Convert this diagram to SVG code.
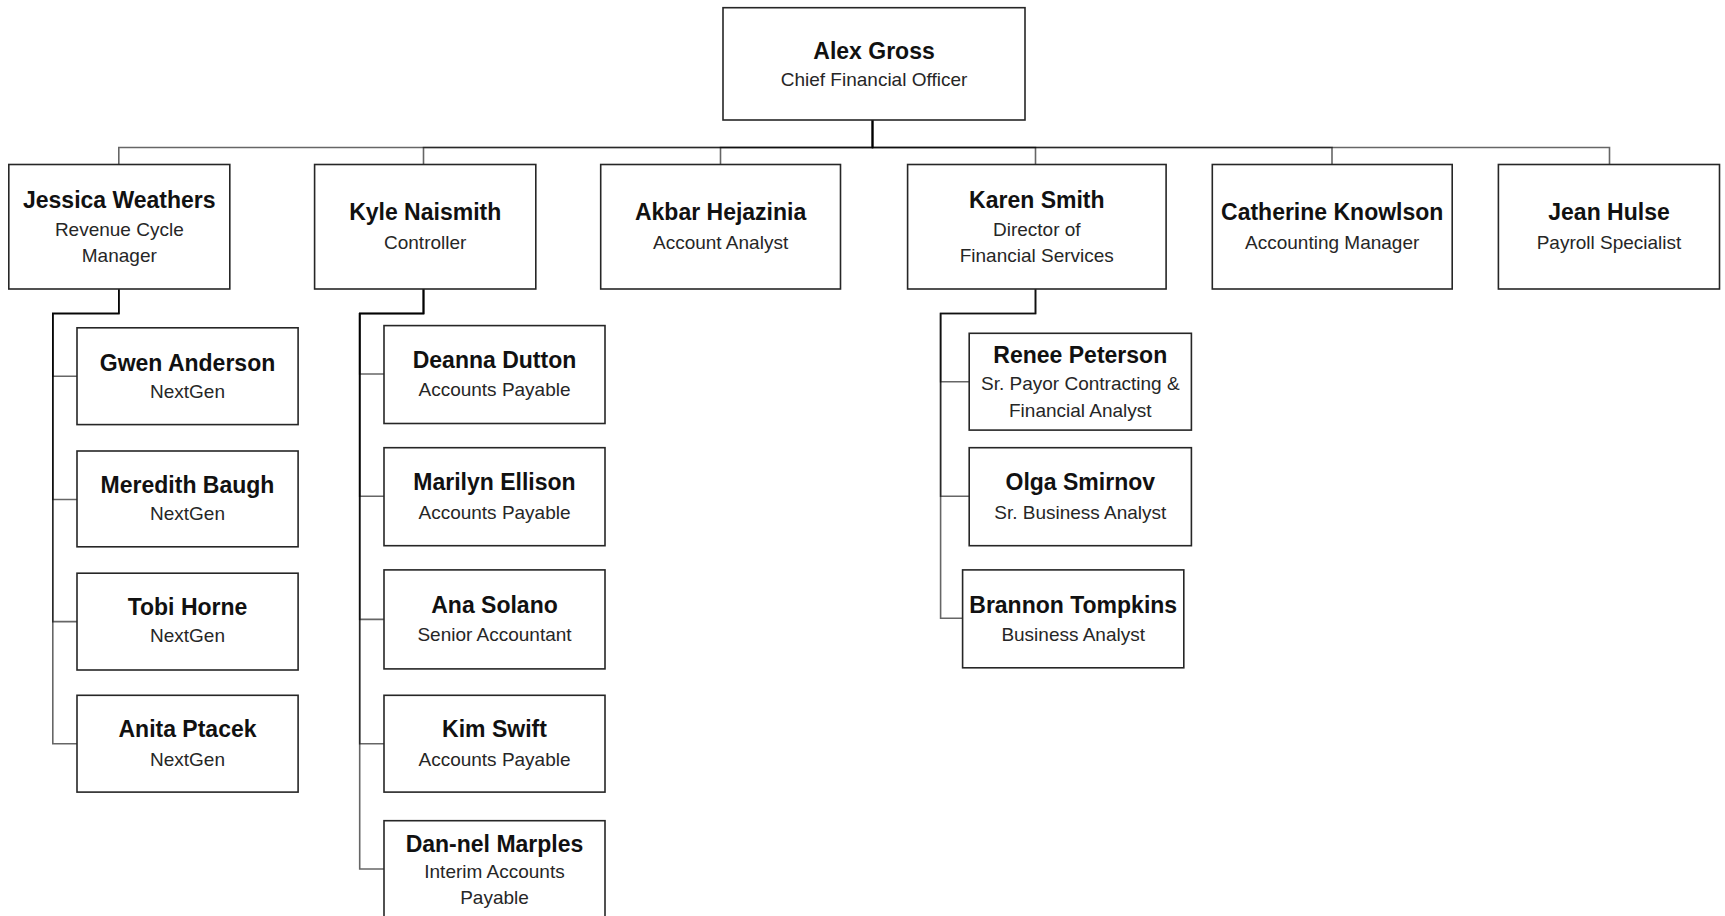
<svg xmlns="http://www.w3.org/2000/svg" width="1725" height="916" viewBox="0 0 1725 916">
<style>
.box{fill:#fff;stroke:#262626;stroke-width:1.6}
.nm{font-family:"Liberation Sans",Arial,sans-serif;font-weight:bold;font-size:23px;fill:#111;text-anchor:middle}
.sb{font-family:"Liberation Sans",Arial,sans-serif;font-size:19px;fill:#262626;text-anchor:middle}
.cn{fill:none;stroke:#000;stroke-opacity:0.6;stroke-width:1.6}
</style>
<rect width="1725" height="916" fill="#fff"/>
<g id="connectors">
<path class="cn" d="M872.5,120 V147.5 H118.8 V164.5"/>
<path class="cn" d="M872.5,120 V147.5 H423.5 V164.5"/>
<path class="cn" d="M872.5,120 V147.5 H720.5 V164.5"/>
<path class="cn" d="M872.5,120 V147.5 H1035.5 V164.5"/>
<path class="cn" d="M872.5,120 V147.5 H1332 V164.5"/>
<path class="cn" d="M872.5,120 V147.5 H1609.5 V164.5"/>
<path class="cn" d="M118.8,289 V313.5 H52.8 V376.2 H77"/>
<path class="cn" d="M118.8,289 V313.5 H52.8 V499.5 H77"/>
<path class="cn" d="M118.8,289 V313.5 H52.8 V621.6 H77"/>
<path class="cn" d="M118.8,289 V313.5 H52.8 V743.7 H77"/>
<path class="cn" d="M423.5,289 V313.5 H359.7 V374 H384"/>
<path class="cn" d="M423.5,289 V313.5 H359.7 V496.2 H384"/>
<path class="cn" d="M423.5,289 V313.5 H359.7 V619.4 H384"/>
<path class="cn" d="M423.5,289 V313.5 H359.7 V743.7 H384"/>
<path class="cn" d="M423.5,289 V313.5 H359.7 V869 H384"/>
<path class="cn" d="M1035.5,289 V313.5 H940.6 V381.7 H969"/>
<path class="cn" d="M1035.5,289 V313.5 H940.6 V496.2 H969"/>
<path class="cn" d="M1035.5,289 V313.5 H940.6 V618.3 H962.6"/>
</g>
<g id="alex-gross"><rect class="box" x="723" y="7.7" width="302" height="112.3"/>
<text class="nm" x="874" y="58.6">Alex Gross</text><text class="sb" x="874" y="85.7">Chief Financial Officer</text></g>
<g id="jessica-weathers"><rect class="box" x="8.8" y="164.5" width="221" height="124.5"/>
<text class="nm" x="119.3" y="208.2">Jessica Weathers</text><text class="sb" x="119.3" y="236.4">Revenue Cycle</text><text class="sb" x="119.3" y="261.7">Manager</text></g>
<g id="kyle-naismith"><rect class="box" x="314.6" y="164.5" width="221.2" height="124.5"/>
<text class="nm" x="425.2" y="220.3">Kyle Naismith</text><text class="sb" x="425.2" y="248.5">Controller</text></g>
<g id="akbar-hejazinia"><rect class="box" x="600.7" y="164.5" width="239.8" height="124.5"/>
<text class="nm" x="720.6" y="220.3">Akbar Hejazinia</text><text class="sb" x="720.6" y="248.5">Account Analyst</text></g>
<g id="karen-smith"><rect class="box" x="907.6" y="164.5" width="258.5" height="124.5"/>
<text class="nm" x="1036.8" y="208.2">Karen Smith</text><text class="sb" x="1036.8" y="236.4">Director of</text><text class="sb" x="1036.8" y="261.7">Financial Services</text></g>
<g id="catherine-knowlson"><rect class="box" x="1212.3" y="164.5" width="239.9" height="124.5"/>
<text class="nm" x="1332.2" y="220.3">Catherine Knowlson</text><text class="sb" x="1332.2" y="248.5">Accounting Manager</text></g>
<g id="jean-hulse"><rect class="box" x="1498.4" y="164.5" width="221.1" height="124.5"/>
<text class="nm" x="1609" y="220.3">Jean Hulse</text><text class="sb" x="1609" y="248.5">Payroll Specialist</text></g>
<g id="gwen-anderson"><rect class="box" x="77" y="327.8" width="221.1" height="96.8"/>
<text class="nm" x="187.5" y="371">Gwen Anderson</text><text class="sb" x="187.5" y="398.1">NextGen</text></g>
<g id="meredith-baugh"><rect class="box" x="77" y="451" width="221.1" height="95.8"/>
<text class="nm" x="187.5" y="493">Meredith Baugh</text><text class="sb" x="187.5" y="520.2">NextGen</text></g>
<g id="tobi-horne"><rect class="box" x="77" y="573.2" width="221.1" height="96.8"/>
<text class="nm" x="187.5" y="615.3">Tobi Horne</text><text class="sb" x="187.5" y="642.4">NextGen</text></g>
<g id="anita-ptacek"><rect class="box" x="77" y="695.3" width="221.1" height="96.8"/>
<text class="nm" x="187.5" y="737.4">Anita Ptacek</text><text class="sb" x="187.5" y="765.5">NextGen</text></g>
<g id="deanna-dutton"><rect class="box" x="384" y="325.6" width="221" height="97.9"/>
<text class="nm" x="494.5" y="367.7">Deanna Dutton</text><text class="sb" x="494.5" y="395.9">Accounts Payable</text></g>
<g id="marilyn-ellison"><rect class="box" x="384" y="447.7" width="221" height="98"/>
<text class="nm" x="494.5" y="489.9">Marilyn Ellison</text><text class="sb" x="494.5" y="519.1">Accounts Payable</text></g>
<g id="ana-solano"><rect class="box" x="384" y="569.9" width="221" height="99"/>
<text class="nm" x="494.5" y="613">Ana Solano</text><text class="sb" x="494.5" y="641.3">Senior Accountant</text></g>
<g id="kim-swift"><rect class="box" x="384" y="695.3" width="221" height="96.8"/>
<text class="nm" x="494.5" y="737.4">Kim Swift</text><text class="sb" x="494.5" y="765.5">Accounts Payable</text></g>
<g id="dan-nel-marples"><rect class="box" x="384" y="820.7" width="221" height="98"/>
<text class="nm" x="494.5" y="851.8">Dan-nel Marples</text><text class="sb" x="494.5" y="877.8">Interim Accounts</text><text class="sb" x="494.5" y="904.2">Payable</text></g>
<g id="renee-peterson"><rect class="box" x="969.2" y="333.3" width="222.2" height="96.8"/>
<text class="nm" x="1080.3" y="363.3">Renee Peterson</text><text class="sb" x="1080.3" y="390.4">Sr. Payor Contracting &amp;</text><text class="sb" x="1080.3" y="416.8">Financial Analyst</text></g>
<g id="olga-smirnov"><rect class="box" x="969.2" y="447.7" width="222.2" height="98"/>
<text class="nm" x="1080.3" y="489.9">Olga Smirnov</text><text class="sb" x="1080.3" y="519.1">Sr. Business Analyst</text></g>
<g id="brannon-tompkins"><rect class="box" x="962.6" y="569.9" width="221.2" height="97.9"/>
<text class="nm" x="1073.2" y="613">Brannon Tompkins</text><text class="sb" x="1073.2" y="641.3">Business Analyst</text></g>
</svg>
